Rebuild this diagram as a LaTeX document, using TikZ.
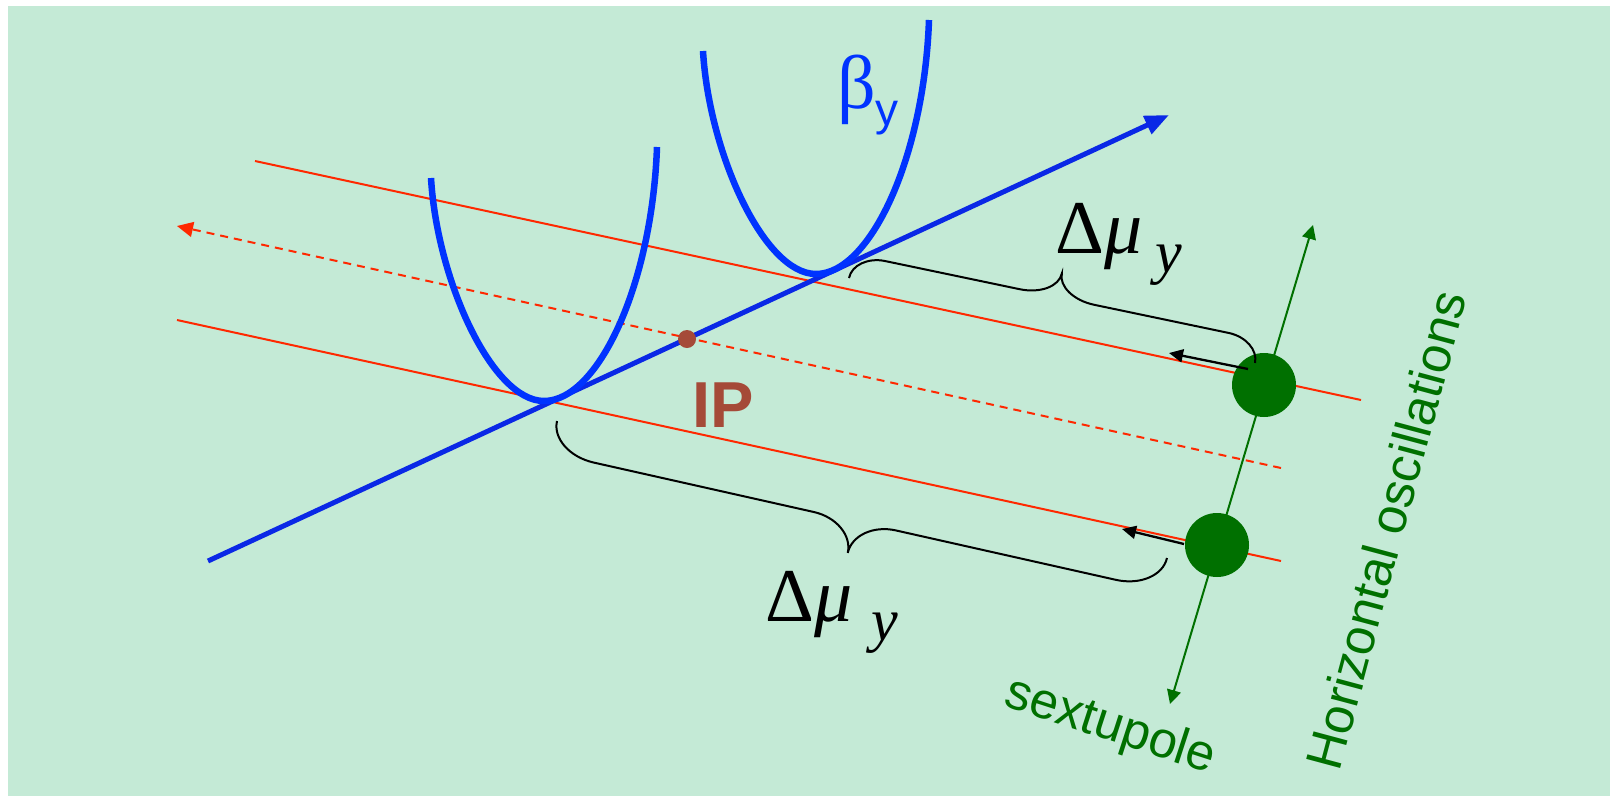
\documentclass[tikz,border=0pt]{standalone}
\usepackage{fontspec}
\setmainfont{Liberation Serif}
\newfontfamily\hsans{Liberation Sans}
\usetikzlibrary{arrows.meta}
\definecolor{bgc}{RGB}{196,234,214}
\definecolor{axisblue}{RGB}{10,40,230}
\definecolor{parblue}{RGB}{0,51,255}
\definecolor{redl}{RGB}{255,40,0}
\definecolor{dgreen}{RGB}{0,112,0}
\definecolor{ipbrown}{RGB}{165,74,56}
\tikzset{
  redline/.style={draw=redl, line width=2pt},
  reddash/.style={draw=redl, line width=2pt, dash pattern=on 8pt off 6pt, -{Triangle[length=16pt,width=15pt]}},
  axisline/.style={draw=axisblue, line width=5pt, -{Triangle[length=24pt,width=19pt]}},
  parab/.style={draw=parblue, line width=6.5pt},
  gline/.style={draw=dgreen, line width=2pt, {Triangle[length=14pt,width=14pt]}-{Triangle[length=14pt,width=14pt]}},
  gdot/.style={circle, fill=dgreen, minimum size=64pt, inner sep=0pt},
  ipdot/.style={circle, fill=ipbrown, minimum size=18pt, inner sep=0pt},
  bracel/.style={draw=black, line width=2pt},
  blackarrow/.style={draw=black, line width=2.3pt, -{Triangle[length=14pt,width=13pt]}},
  dmu/.style={inner sep=0pt, anchor=base west, font=\fontsize{76}{80}\selectfont},
  pics/mybrace/.style n args={4}{code={
    \draw[bracel] (0,0) .. controls (0,{0.276*(#2)}) and ({0.448*(#3)},{(#2)/2}) .. ({#3},{(#2)/2})
      -- ({(#1)/2-(#4)},{(#2)/2})
      .. controls ({(#1)/2-0.448*(#4)},{(#2)/2}) and ({(#1)/2},{0.724*(#2)}) .. ({(#1)/2},{#2})
      .. controls ({(#1)/2},{0.724*(#2)}) and ({(#1)/2+0.448*(#4)},{(#2)/2}) .. ({(#1)/2+(#4)},{(#2)/2})
      -- ({(#1)-(#3)},{(#2)/2})
      .. controls ({(#1)-0.448*(#3)},{(#2)/2}) and ({#1},{0.276*(#2)}) .. ({#1},0);
  }}
}
\begin{document}
\begin{tikzpicture}[x=1pt,y=-1pt]
\useasboundingbox (0,0) rectangle (1610,796);
\fill[white] (0,0) rectangle (1610,796);
\fill[bgc] (8,6) rectangle (1610,796);

% coordinates
\coordinate (axS) at (208,561);
\coordinate (axE) at (1169,115);
\coordinate (rtS) at (255,161);
\coordinate (rtE) at (1361,400);
\coordinate (rbS) at (177,320);
\coordinate (rbE) at (1281,561);
\coordinate (rdS) at (1281,468);
\coordinate (rdE) at (177,226);
\coordinate (gS) at (1170,704);
\coordinate (gE) at (1313,225);
\coordinate (a1s) at (1248,369);
\coordinate (a1e) at (1169,353);
\coordinate (a2s) at (1184,544);
\coordinate (a2e) at (1122,529);

% red lines
\draw[redline] (rtS) -- (rtE);
\draw[redline] (rbS) -- (rbE);
\draw[reddash] (rdS) -- (rdE);

% beam axis
\draw[axisline] (axS) -- (axE);

% parabolas
\draw[parab] (431,178) .. controls (437,280) and (492,401) .. (544,401)
  .. controls (598,401) and (652,285) .. (657,147);
\draw[parab] (703,51) .. controls (709,153) and (764,274) .. (816,274)
  .. controls (870,274) and (924,158) .. (929,20);

% IP
\node[ipdot] (ip) at (687,339) {};

% green line and sextupoles
\draw[gline] (gS) -- (gE);
\node[gdot] (s1) at (1264,385) {};
\node[gdot] (s2) at (1217,545) {};

% braces
\pic[rotate=-11.82] at (849,278) {mybrace={414.8}{-48}{32}{38}};
\pic[rotate=-12.66] at (557,421) {mybrace={625.2}{65}{45}{42}};

% black arrows
\draw[blackarrow] (a1s) -- (a1e);
\draw[blackarrow] (a2s) -- (a2e);

% labels
\node[dmu] (lab1) at (1055,253) {Δ\textit{μ}\hspace{13pt}\raisebox{-19pt}{\fontsize{60}{60}\selectfont\textit{y}}};
\node[dmu] (lab2) at (765,621) {Δ\textit{μ}\hspace{19pt}\raisebox{-19pt}{\fontsize{60}{60}\selectfont\textit{y}}};
\node[anchor=base west, text=parblue, inner sep=0pt, font=\fontsize{76}{78}\selectfont] (beta) at (837,108) {β\raisebox{-17pt}{\hsans\fontsize{46}{48}\selectfont y}};
\node[anchor=base west, text=ipbrown, inner sep=0pt, font=\hsans\bfseries\fontsize{65}{66}\selectfont] (iplab) at (692,427) {IP};
\node[rotate=75, text=dgreen, inner sep=0pt, font=\hsans\fontsize{51}{52}\selectfont] (hosc) at (1386,530) {Horizontal oscillations};
\node[rotate=-18, text=dgreen, inner sep=0pt, font=\hsans\fontsize{51}{52}\selectfont] (sext) at (1110,727) {sextupole};
\end{tikzpicture}
\end{document}
